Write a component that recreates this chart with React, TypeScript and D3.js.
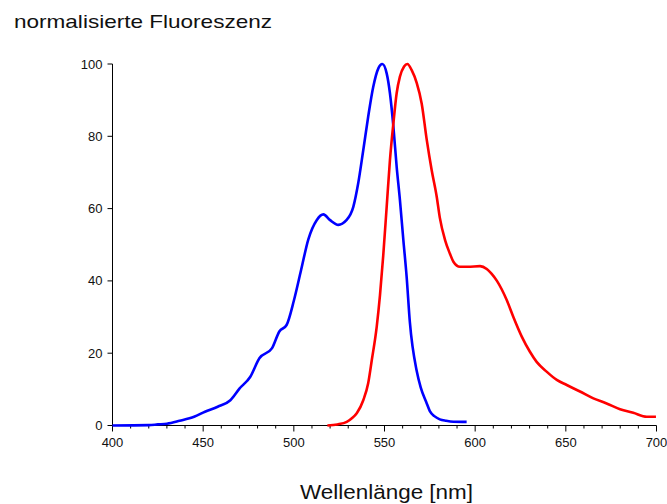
import React from "react";
import * as d3 from "d3";

const blueX = [400, 420, 425, 430, 437, 445, 451, 458, 465, 470, 476, 481, 488, 492, 496, 500, 504, 508, 512.6, 516.3, 520, 524.5, 529, 532.8, 535.5, 538.3, 541, 543.8, 546.6, 548.8, 551.2, 553, 554.9, 556.7, 558.5, 560.4, 562.2, 564, 567.8, 570, 573, 575, 577.5, 580.5, 584, 588, 595.3];
const blueY = [0, 0.1, 0.3, 0.5, 1.3, 2.4, 3.8, 5.2, 7.0, 10.2, 13.5, 18.6, 21.4, 26, 27.8, 34.5, 43.0, 51.5, 56.8, 58.4, 56.8, 55.5, 56.8, 60.5, 67, 76.2, 85.4, 93.7, 98.8, 100, 97.4, 91.9, 82.7, 71.6, 62.4, 51.3, 41.2, 28.5, 15.0, 10.5, 6.5, 4.0, 2.6, 1.7, 1.3, 1.05, 1.0];

const redX = [518.5, 524, 529.2, 532, 534.7, 538.3, 541, 543, 545.7, 547.5, 549.3, 551.2, 553, 554.9, 556.7, 558.5, 560.8, 562.6, 565, 567.8, 570.5, 573.3, 576, 578.8, 580.5, 583.4, 586.1, 588, 591.6, 596, 602.7, 606.4, 609, 612, 617.4, 621, 625.7, 630.2, 633.9, 639.4, 645, 650.5, 657.8, 665.2, 672.5, 679.9, 687.2, 694.6, 699.7];
const redY = [0, 0.3, 1, 2, 3.4, 7, 11.7, 18.1, 27.3, 36, 47, 60.5, 73.4, 83.6, 91.9, 96.5, 99.3, 100, 98.3, 94.7, 89.1, 79, 70.7, 63.3, 57.5, 51.3, 47.5, 45.3, 43.9, 43.9, 44.1, 43.3, 42.0, 40.0, 34.7, 30.1, 24.6, 20.4, 17.6, 14.9, 12.6, 11.2, 9.4, 7.5, 6.1, 4.5, 3.5, 2.4, 2.4];

const xTicks = [400, 450, 500, 550, 600, 650, 700];
const xMinorTicks = d3.range(400, 701, 10);
const yTicks = [0, 20, 40, 60, 80, 100];

const W = 667;
const H = 504;
const left = 112.5;
const right = 656.5;
const top = 64;
const bottom = 425.5;

export default function App() {
  const x = d3.scaleLinear().domain([400, 700]).range([left, right]);
  const y = d3.scaleLinear().domain([0, 100]).range([bottom, top]);
  const line = d3
    .line<[number, number]>()
    .x((d) => x(d[0]))
    .y((d) => y(d[1]))
    .curve(d3.curveMonotoneX);
  const blue = blueX.map((v, i) => [v, blueY[i]] as [number, number]);
  const red = redX.map((v, i) => [v, redY[i]] as [number, number]);
  const font = "'Liberation Sans', Arial, sans-serif";

  return (
    <svg
      width={W}
      height={H}
      style={{ position: "fixed", left: 0, top: 0, background: "#fff" }}
    >
      <rect x={0} y={0} width={W} height={H} fill="#fff" />
      <text
        x={14}
        y={28}
        fontFamily={font}
        fontSize={19}
        fill="#111"
        textLength={258}
        lengthAdjust="spacingAndGlyphs"
      >
        normalisierte Fluoreszenz
      </text>
      <text
        x={300}
        y={499}
        fontFamily={font}
        fontSize={20.5}
        fill="#111"
        textLength={173}
        lengthAdjust="spacingAndGlyphs"
      >
        Wellenlänge [nm]
      </text>

      <line x1={left} x2={left} y1={top} y2={bottom} stroke="#000" strokeWidth={1} />
      <line x1={left} x2={right} y1={bottom} y2={bottom} stroke="#000" strokeWidth={1} />

      {yTicks.map((t) => (
        <g key={"y" + t}>
          <line x1={left - 5} x2={left} y1={y(t)} y2={y(t)} stroke="#000" />
          <text
            x={left - 10}
            y={y(t) + 4.5}
            textAnchor="end"
            fontFamily={font}
            fontSize={13}
            fill="#111"
          >
            {t}
          </text>
        </g>
      ))}

      {xMinorTicks.map((t) => (
        <line
          key={"xm" + t}
          x1={x(t)}
          x2={x(t)}
          y1={bottom}
          y2={bottom + (t % 50 === 0 ? 6 : 3)}
          stroke="#000"
        />
      ))}
      {xTicks.map((t) => (
        <text
          key={"xl" + t}
          x={x(t)}
          y={447}
          textAnchor="middle"
          fontFamily={font}
          fontSize={13}
          fill="#111"
        >
          {t}
        </text>
      ))}

      <path d={line(blue) || ""} fill="none" stroke="#0000ff" strokeWidth={2.6} strokeLinejoin="round" />
      <path d={line(red) || ""} fill="none" stroke="#ff0000" strokeWidth={2.6} strokeLinejoin="round" />
    </svg>
  );
}
